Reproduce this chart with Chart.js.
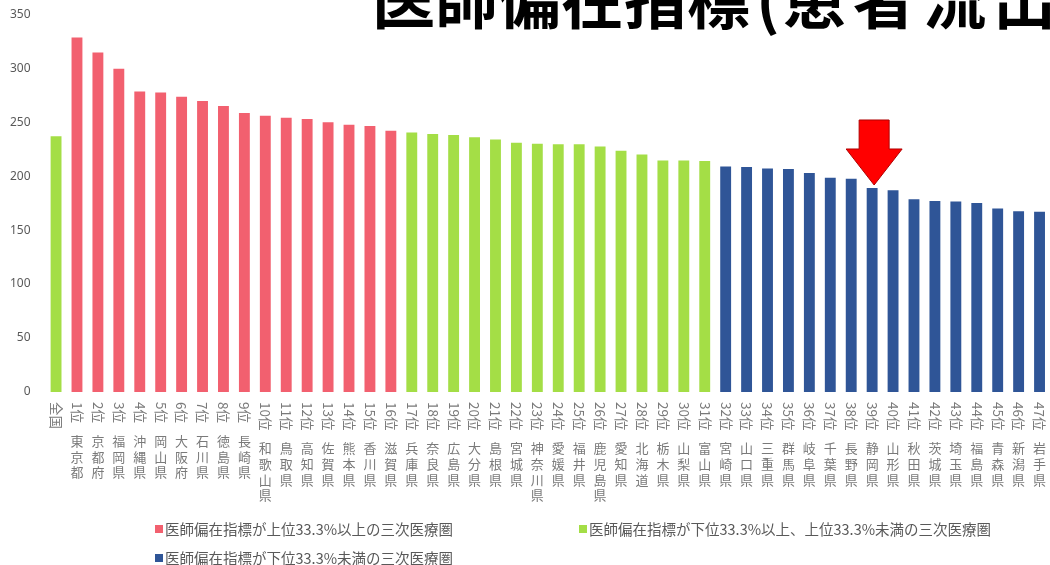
<!DOCTYPE html>
<html lang="ja">
<head>
    <meta charset="UTF-8">
    <title>医師偏在指標</title>
    <style>
        body {
            margin: 0;
            background: #fff;
            overflow: hidden;
        }
        .wrap {
            position: relative;
            width: 1050px;
            height: 565px;
        }
    </style>
    <script src="https://cdn.jsdelivr.net/npm/chart.js"></script>
</head>
<body>
    <div class="wrap">
        <canvas id="bias"></canvas>
    </div>

    <script>
        // data
        const prefectures = ['', '東京都', '京都府', '福岡県', '沖縄県', '岡山県', '大阪府', '石川県', '徳島県', '長崎県',
            '和歌山県', '鳥取県', '高知県', '佐賀県', '熊本県', '香川県', '滋賀県', '兵庫県', '奈良県', '広島県',
            '大分県', '島根県', '宮城県', '神奈川県', '愛媛県', '福井県', '鹿児島県', '愛知県', '北海道', '栃木県',
            '山梨県', '富山県', '宮崎県', '山口県', '三重県', '群馬県', '岐阜県', '千葉県', '長野県', '静岡県',
            '山形県', '秋田県', '茨城県', '埼玉県', '福島県', '青森県', '新潟県', '岩手県'];
        const ranks = ['全国'];
        for (let r = 1; r <= 47; r++) ranks.push(r + '位');
        const values = [237, 328.5, 314.5, 299.5, 278.5, 277.5, 273.5, 269.5, 265, 258.5,
            256, 254, 253, 250, 247.5, 246.5, 242, 240.5, 239, 238,
            236, 234, 231, 230, 229.5, 229.5, 227.5, 223.5, 220, 214.5,
            214.5, 214, 209, 208.5, 207, 206.5, 203, 198.5, 197.5, 189,
            187, 178.5, 177, 176.5, 175, 170, 167.5, 167];
        // 0 = upper 33.3%, 1 = middle, 2 = lower 33.3%
        const groups = [1].concat(Array(16).fill(0), Array(15).fill(1), Array(16).fill(2));
        const groupNames = [
            '医師偏在指標が上位33.3%以上の三次医療圏',
            '医師偏在指標が下位33.3%以上、上位33.3%未満の三次医療圏',
            '医師偏在指標が下位33.3%未満の三次医療圏'
        ];
        const groupColors = ['#F2606F', '#A4DE46', '#2F5597'];
        const yTicks = [0, 50, 100, 150, 200, 250, 300, 350];
        const markedIndex = 39; // 静岡県

        const FONT = '"Noto Sans CJK JP", "Noto Sans", sans-serif';

        const datasets = groupNames.map((name, g) => ({
            label: name,
            data: values.map((v, i) => groups[i] === g ? v : null),
            backgroundColor: groupColors[g],
            barPercentage: 0.52,
            categoryPercentage: 1.0
        }));

        // rank (sideways) + prefecture (stacked upright) labels, legend, title, arrow
        const decorations = {
            id: 'decorations',
            afterDraw(chart) {
                const ctx = chart.ctx;
                const x = chart.scales.x;
                ctx.save();

                // x labels
                for (let i = 0; i < ranks.length; i++) {
                    const px = x.getPixelForValue(i);
                    ctx.font = '13.5px ' + FONT;
                    ctx.fillStyle = '#7a7a7a';
                    const w = ctx.measureText(ranks[i]).width;
                    ctx.save();
                    ctx.translate(px, 402);
                    ctx.rotate(Math.PI / 2);
                    ctx.textAlign = 'left';
                    ctx.textBaseline = 'middle';
                    ctx.fillText(ranks[i], 0, 0);
                    ctx.restore();

                    ctx.font = '13px ' + FONT;
                    ctx.textAlign = 'center';
                    ctx.textBaseline = 'middle';
                    const chars = Array.from(prefectures[i]);
                    let cy = 402 + w + 18;
                    chars.forEach(ch => {
                        ctx.fillText(ch, px, cy);
                        cy += 15.6;
                    });
                }

                // legend
                const legendPos = [[155, 529], [579, 529], [155, 558]];
                ctx.font = '14.5px ' + FONT;
                ctx.textAlign = 'left';
                ctx.textBaseline = 'middle';
                groupNames.forEach((name, g) => {
                    const [lx, ly] = legendPos[g];
                    ctx.fillStyle = groupColors[g];
                    ctx.fillRect(lx, ly - 4, 8, 8);
                    ctx.fillStyle = '#595959';
                    ctx.fillText(name, lx + 10, ly);
                });

                // title (cut off by the top edge)
                ctx.font = 'bold 63px ' + FONT;
                ctx.fillStyle = '#000';
                ctx.textBaseline = 'alphabetic';
                ctx.fillText('医師偏在指標', 372, 23);
                ctx.fillText('(', 756, 23);
                Array.from('患者流出入').forEach((ch, k) => {
                    ctx.fillText(ch, 783 + k * 70, 23);
                });

                // red arrow above the marked bar
                const meta = chart.getDatasetMeta(groups[markedIndex]);
                const bar = meta.data[markedIndex];
                const ax = bar.x + 2;
                const tip = bar.y - 3;
                ctx.beginPath();
                ctx.moveTo(ax - 15, tip - 65);
                ctx.lineTo(ax + 15, tip - 65);
                ctx.lineTo(ax + 15, tip - 36);
                ctx.lineTo(ax + 28, tip - 36);
                ctx.lineTo(ax, tip);
                ctx.lineTo(ax - 28, tip - 36);
                ctx.lineTo(ax - 15, tip - 36);
                ctx.closePath();
                ctx.fillStyle = '#FF0000';
                ctx.fill();
                ctx.strokeStyle = '#B00000';
                ctx.lineWidth = 1;
                ctx.stroke();

                ctx.restore();
            }
        };

        new Chart(document.getElementById('bias'), {
            type: 'bar',
            data: {
                labels: prefectures.map((p, i) => ranks[i] + ' ' + p),
                datasets: datasets
            },
            options: {
                responsive: true,
                maintainAspectRatio: false,
                animation: false,
                layout: {
                    padding: { left: 3, right: 0, top: 10, bottom: 173 }
                },
                plugins: {
                    legend: { display: false },
                    tooltip: { enabled: false }
                },
                scales: {
                    x: {
                        stacked: true,
                        display: false
                    },
                    y: {
                        stacked: true,
                        min: 0,
                        max: 350,
                        afterBuildTicks: axis => {
                            axis.ticks = yTicks.map(v => ({ value: v }));
                        },
                        grid: { display: false },
                        border: { display: false },
                        ticks: {
                            padding: 7,
                            color: '#595959',
                            font: { size: 12, family: '"Noto Sans", sans-serif' }
                        }
                    }
                }
            },
            plugins: [decorations]
        });
    </script>
</body>
</html>
